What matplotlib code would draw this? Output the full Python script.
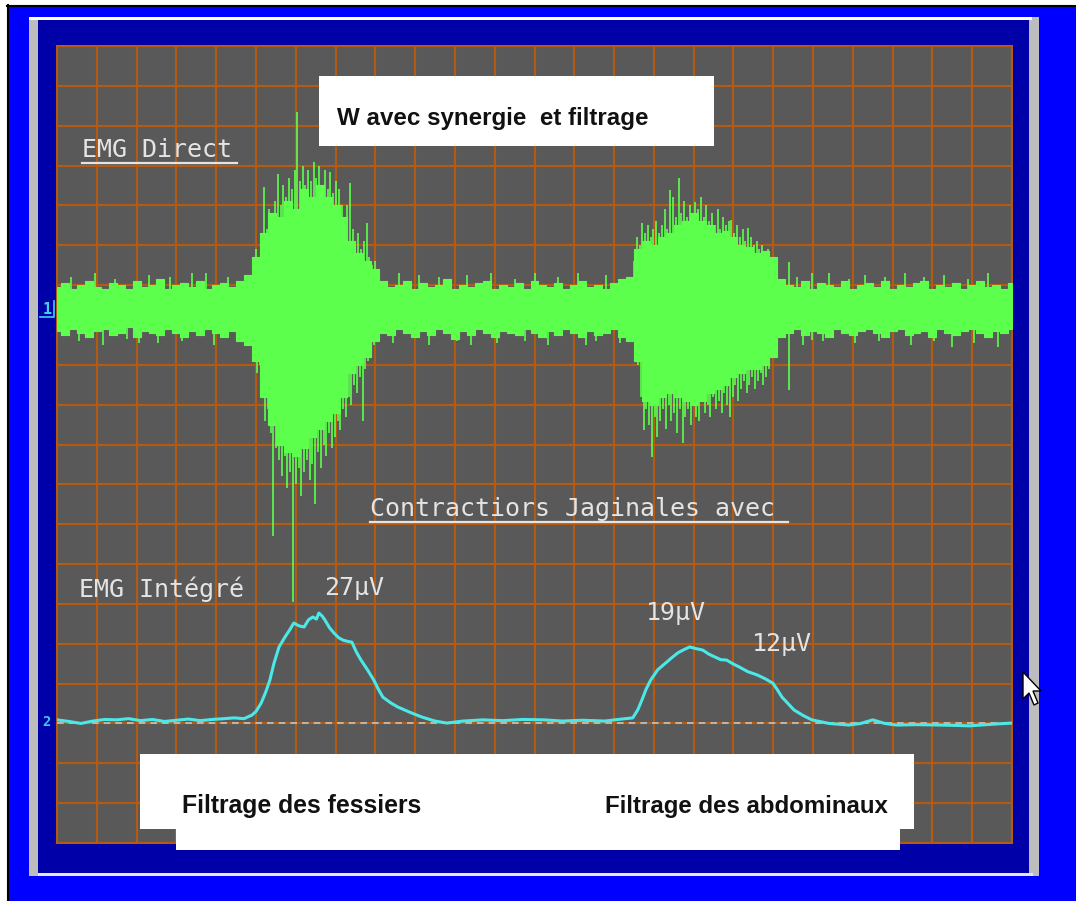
import numpy as np
import matplotlib
matplotlib.use("Agg")
import matplotlib.pyplot as plt
from matplotlib.patches import Rectangle, Polygon

# ---- data, in screen divisions (24 across, 20 high) -------------------------
# EMG direct: dense core of the raw trace, sampled every 0.2 division
T_DIV = np.linspace(0, 24, 121)
EMG_UPPER = [
    13.95, 14.05, 13.90, 14.00, 14.10, 13.95, 13.90, 14.05, 14.00, 13.90,
    14.10, 13.95, 14.00, 14.15, 13.90, 14.00, 14.05, 13.95, 14.10, 13.90,
    14.00, 14.05, 13.95, 14.10, 14.25, 14.70, 15.30, 15.80, 15.70, 16.10,
    15.90, 16.40, 16.20, 16.50, 16.20, 16.00, 15.70, 15.10, 14.80, 14.60,
    14.40, 14.10, 13.95, 14.00, 14.10, 13.90, 14.05, 13.95, 14.00, 14.15,
    13.90, 14.00, 13.95, 14.05, 14.10, 13.90, 14.00, 13.95, 14.05, 13.90,
    14.10, 14.00, 13.95, 14.05, 13.90, 14.00, 14.10, 13.95, 14.00, 13.90,
    14.05, 14.15, 14.20, 14.90, 15.10, 15.00, 15.20, 15.30, 15.50, 15.60,
    15.80, 15.60, 15.50, 15.30, 15.35, 15.20, 15.00, 14.95, 14.80, 14.85,
    14.70, 14.15, 14.00, 13.95, 14.10, 13.90, 14.05, 14.00, 13.95, 14.10,
    13.90, 14.00, 14.05, 13.95, 14.10, 13.90, 14.00, 13.95, 14.05, 14.10,
    13.90, 14.00, 13.95, 14.05, 13.90, 14.00, 14.10, 13.95, 14.00, 13.90,
    14.05,
]
EMG_LOWER = [
    12.85, 12.75, 12.90, 12.80, 12.70, 12.85, 12.90, 12.75, 12.80, 12.95,
    12.70, 12.85, 12.80, 12.75, 12.90, 12.80, 12.70, 12.85, 12.75, 12.90,
    12.80, 12.70, 12.85, 12.60, 12.50, 12.10, 11.20, 10.50, 10.00, 9.80,
    9.70, 9.90, 10.20, 10.40, 10.60, 10.80, 11.20, 11.80, 12.00, 12.20,
    12.60, 12.80, 12.75, 12.90, 12.80, 12.70, 12.85, 12.75, 12.90, 12.80,
    12.65, 12.85, 12.75, 12.90, 12.80, 12.70, 12.85, 12.80, 12.75, 12.90,
    12.80, 12.70, 12.85, 12.75, 12.90, 12.80, 12.70, 12.85, 12.75, 12.80,
    12.90, 12.70, 12.60, 12.10, 11.10, 11.00, 11.20, 11.30, 11.20, 11.10,
    11.00, 11.10, 11.30, 11.40, 11.50, 11.70, 11.80, 11.90, 11.90, 12.00,
    12.20, 12.70, 12.80, 12.90, 12.75, 12.85, 12.80, 12.70, 12.90, 12.80,
    12.75, 12.85, 12.90, 12.80, 12.70, 12.85, 12.90, 12.75, 12.80, 12.85,
    12.70, 12.90, 12.80, 12.75, 12.85, 12.90, 12.80, 12.70, 12.85, 12.80,
    12.90,
]
EMG_CENTER = 13.4

# individual transients above the core (x, tip)
UP_X = [
    4.92, 4.99, 5.06, 5.13, 5.20, 5.27, 5.34, 5.41, 5.48, 5.55,
    5.62, 5.69, 5.76, 5.83, 5.90, 5.97, 6.03, 6.10, 6.17, 6.24,
    6.31, 6.38, 6.45, 6.52, 6.59, 6.66, 6.73, 6.80, 6.87, 6.94,
    7.01, 7.08, 7.15, 7.22, 7.29, 7.36, 7.43, 7.50, 7.57, 7.64,
    7.71, 7.78, 7.85, 7.92, 7.99,
    14.50, 14.57, 14.64, 14.71, 14.78, 14.85, 14.92, 14.99, 15.06, 15.13,
    15.20, 15.27, 15.34, 15.41, 15.48, 15.55, 15.62, 15.69, 15.76, 15.83,
    15.90, 15.97, 16.04, 16.11, 16.18, 16.25, 16.32, 16.39, 16.46, 16.53,
    16.60, 16.67, 16.74, 16.81, 16.88, 16.95, 17.02, 17.09, 17.16, 17.23,
    17.30, 17.37, 17.44, 17.51, 17.58, 17.65, 17.72, 17.79, 17.86, 17.93,
    18.00,
    18.39, 18.97, 12.00, 20.30, 9.10, 3.40,
    0.35, 0.95, 1.45, 2.30, 2.85, 3.75, 4.30, 8.60, 9.60, 10.30,
    10.90, 11.50, 12.60, 13.10, 13.80, 18.60, 19.40, 19.90, 20.80, 21.30,
    21.80, 22.30, 22.90, 23.40,
]
UP_TIP = [
    14.6, 14.9, 14.7, 15.2, 16.46, 15.4, 15.9, 15.6, 16.1, 16.8,
    16.0, 16.5, 16.2, 16.7, 16.4, 16.9, 18.34, 16.6, 17.0, 16.5,
    16.9, 16.6, 17.1, 16.7, 17.0, 16.5, 16.9, 16.4, 16.85, 16.3,
    16.6, 16.4, 16.0, 15.7, 16.0, 16.55, 15.4, 15.1, 15.3, 14.9,
    15.1, 15.55, 14.7, 14.5, 14.6,
    14.6, 15.2, 15.0, 15.56, 15.3, 15.5, 15.2, 15.4, 15.6, 15.3,
    15.5, 15.9, 15.4, 16.39, 16.2, 15.7, 16.69, 15.8, 16.1, 15.7,
    16.0, 15.8, 16.08, 15.9, 16.2, 15.7, 16.0, 15.6, 15.8, 15.5,
    15.9, 15.4, 15.7, 15.5, 15.6, 15.63, 15.3, 15.5, 15.2, 15.4,
    15.1, 15.43, 15.2, 15.0, 15.1, 14.9, 15.0, 14.8, 14.9, 14.6,
    14.4,
    14.58, 14.30, 14.30, 14.25, 14.25, 14.30,
    14.20, 14.30, 14.15, 14.25, 14.20, 14.30, 14.20, 14.30, 14.20, 14.25,
    14.30, 14.15, 14.20, 14.30, 14.25, 14.20, 14.30, 14.15, 14.20, 14.30,
    14.20, 14.25, 14.15, 14.30,
]
# transients below the core (x, tip)
DOWN_X = [
    4.95, 5.02, 5.09, 5.16, 5.23, 5.30, 5.37, 5.44, 5.51, 5.58,
    5.65, 5.72, 5.79, 5.86, 5.93, 6.00, 6.07, 6.14, 6.21, 6.28,
    6.35, 6.42, 6.49, 6.56, 6.63, 6.70, 6.77, 6.84, 6.91, 6.98,
    7.05, 7.12, 7.19, 7.26, 7.33, 7.40, 7.47, 7.54, 7.61, 7.68,
    7.75, 7.82, 7.89, 7.96,
    14.53, 14.60, 14.67, 14.74, 14.81, 14.88, 14.95, 15.02, 15.09, 15.16,
    15.23, 15.30, 15.37, 15.44, 15.51, 15.58, 15.65, 15.72, 15.79, 15.86,
    15.93, 16.00, 16.07, 16.14, 16.21, 16.28, 16.35, 16.42, 16.49, 16.56,
    16.63, 16.70, 16.77, 16.84, 16.91, 16.98, 17.05, 17.12, 17.19, 17.26,
    17.33, 17.40, 17.47, 17.54, 17.61, 17.68, 17.75, 17.82, 17.89, 17.96,
    18.03,
    18.39, 18.97, 2.06, 22.50, 10.40, 13.30,
    0.55, 1.15, 1.75, 2.55, 3.15, 3.95, 4.55, 8.45, 9.35, 10.05,
    11.05, 11.75, 12.35, 13.55, 14.15, 18.75, 19.25, 20.05, 20.65, 21.45,
    22.05, 23.05, 23.65,
]
DOWN_TIP = [
    12.2, 11.8, 12.0, 11.2, 10.6, 10.9, 10.3, 7.7, 9.9, 9.6,
    9.2, 9.7, 8.9, 9.3, 6.05, 9.0, 9.4, 8.7, 9.3, 9.6,
    9.1, 9.5, 8.5, 9.8, 9.4, 10.0, 9.7, 10.3, 9.9, 10.2,
    10.6, 10.36, 10.9, 10.7, 11.2, 11.0, 11.5, 11.3, 11.7, 10.6,
    11.9, 12.1, 12.3, 12.5,
    12.4, 12.0, 11.2, 10.36, 10.9, 10.5, 9.69, 10.7, 10.19, 10.6,
    10.9, 10.4, 11.0, 10.6, 10.8, 10.3, 10.9, 10.04, 10.7, 10.9,
    10.5, 11.0, 10.7, 10.6, 11.1, 10.8, 11.0, 10.7, 11.2, 10.9,
    11.1, 10.8, 11.3, 11.0, 10.69, 11.2, 11.5, 11.1, 11.4, 11.6,
    11.3, 11.5, 11.7, 11.4, 11.6, 11.8, 11.5, 11.7, 11.9, 12.2,
    12.6,
    11.37, 12.62, 12.55, 12.45, 12.50, 12.50,
    12.60, 12.50, 12.65, 12.55, 12.60, 12.50, 12.60, 12.55, 12.50, 12.60,
    12.55, 12.60, 12.50, 12.60, 12.55, 12.50, 12.60, 12.55, 12.60, 12.50,
    12.60, 12.55, 12.45,
]

# EMG integrated trace
INT_X = [0.0, 0.3, 0.6, 0.9, 1.2, 1.5, 1.8, 2.1, 2.4, 2.7,
         3.0, 3.3, 3.6, 3.9, 4.2, 4.45, 4.7, 4.9, 5.0, 5.13,
         5.25, 5.35, 5.45, 5.58, 5.73, 5.85, 5.95, 6.08, 6.21, 6.32,
         6.43, 6.52, 6.58, 6.66, 6.73, 6.85, 6.96, 7.08, 7.19, 7.3,
         7.41, 7.52, 7.64, 7.8, 7.96, 8.08, 8.19, 8.38, 8.57, 8.87,
         9.17, 9.5, 9.8, 10.2, 10.7, 11.2, 11.7, 12.24, 12.7, 13.2,
         13.77, 14.1, 14.47, 14.6, 14.7, 14.8, 14.92, 15.1, 15.3, 15.45,
         15.6, 15.75, 15.9, 16.05, 16.23, 16.38, 16.53, 16.68, 16.83, 16.98,
         17.14, 17.36, 17.59, 17.8, 17.99, 18.1, 18.22, 18.37, 18.52, 18.75,
         18.97, 19.4, 19.9, 20.2, 20.5, 20.8, 21.1, 21.6, 22.19, 22.6,
         22.94, 23.5, 24.0]
INT_Y = [3.09, 3.05, 3.00, 3.06, 3.10, 3.09, 3.12, 3.07, 3.10, 3.05,
         3.08, 3.11, 3.07, 3.10, 3.12, 3.14, 3.12, 3.21, 3.30, 3.51,
         3.80, 4.09, 4.50, 4.92, 5.17, 5.35, 5.52, 5.45, 5.42, 5.60,
         5.67, 5.62, 5.77, 5.70, 5.60, 5.40, 5.27, 5.15, 5.09, 5.06,
         5.04, 4.80, 4.59, 4.35, 4.09, 3.85, 3.66, 3.52, 3.41, 3.28,
         3.16, 3.06, 3.01, 3.06, 3.09, 3.07, 3.10, 3.09, 3.06, 3.08,
         3.06, 3.10, 3.14, 3.35, 3.59, 3.85, 4.09, 4.35, 4.52, 4.65,
         4.77, 4.85, 4.92, 4.88, 4.84, 4.74, 4.67, 4.60, 4.59, 4.50,
         4.42, 4.30, 4.22, 4.12, 4.01, 3.85, 3.66, 3.50, 3.34, 3.20,
         3.09, 3.00, 2.96, 3.00, 3.09, 3.00, 2.96, 2.97, 2.96, 2.95,
         2.94, 2.98, 3.01]
INT_BASELINE = 3.0
PEAK_LABELS = ["27µV", "19µV", "12µV"]

GREEN = "#5CFF4C"
CYAN = "#4CE8E8"
GRID = "#B65A12"
SCREEN_TXT = "#E4E4E4"
MONO = "DejaVu Sans Mono"
BOLD = ["Liberation Sans", "DejaVu Sans"]

W, H = 1076, 901
fig = plt.figure(figsize=(W / 100, H / 100), dpi=100, facecolor="#0000FF")

# ---------- window frame (pixel coords) ----------
bg = fig.add_axes([0, 0, 1, 1], zorder=0)
bg.set_xlim(0, W); bg.set_ylim(H, 0); bg.axis("off")
bg.add_patch(Rectangle((0, 0), 7, H, color="white", lw=0))
bg.add_patch(Rectangle((0, 0), W, 5, color="white", lw=0))
bg.plot([7.5, 7.5], [5, H], color="black", lw=1.5)
bg.plot([7, W], [5.5, 5.5], color="black", lw=1.5)
bg.add_patch(Rectangle((29, 17), 1010, 859, color="#BDBDBD", lw=0))
bg.add_patch(Rectangle((29, 17), 1003, 2.5, color="white", lw=0))
bg.add_patch(Rectangle((38, 20), 991, 853, color="#0000A8", lw=0))
bg.add_patch(Rectangle((38, 873), 995, 3, color="#E6E6F2", lw=0))

# ---------- oscilloscope screen ----------
ax = fig.add_axes([57 / W, (H - 843) / H, 955 / W, 797 / H], zorder=1)
ax.set_facecolor("#595959")
ax.set_xlim(0, 24); ax.set_ylim(0, 20)
ax.set_xticks(np.arange(25)); ax.set_yticks(np.arange(21))
ax.tick_params(length=0, labelbottom=False, labelleft=False)
ax.grid(True, color=GRID, lw=1.5)
ax.set_axisbelow(True)
for s in ax.spines.values():
    s.set_color(GRID); s.set_linewidth(1.5)

ax.fill_between(T_DIV, EMG_LOWER, EMG_UPPER, step="mid", color=GREEN,
                lw=0.8, edgecolor=GREEN, zorder=3)
ax.vlines(UP_X, EMG_CENTER, UP_TIP, color=GREEN, lw=1.2, zorder=3)
ax.vlines(DOWN_X, DOWN_TIP, EMG_CENTER, color=GREEN, lw=1.2, zorder=3)
ax.axhline(INT_BASELINE, color="#C4C4C4", lw=1.2, dashes=(4, 3), zorder=3)
ax.plot(INT_X, INT_Y, color=CYAN, lw=2.2, zorder=4)

# ---------- overlay: labels, white boxes, cursor ----------
ov = fig.add_axes([0, 0, 1, 1], zorder=2)
ov.set_xlim(0, W); ov.set_ylim(H, 0); ov.axis("off")
ov.patch.set_alpha(0)

ov.add_patch(Rectangle((319, 76), 395, 70, color="white", lw=0))
ov.text(337, 119, "W avec synergie  et filtrage", fontsize=17.4,
        fontweight="bold", family=BOLD, va="center", ha="left", color="#111111")

ov.add_patch(Rectangle((140, 754), 774, 75, color="white", lw=0))
ov.add_patch(Rectangle((176, 800), 724, 50, color="white", lw=0))
ov.text(182, 806, "Filtrage des fessiers", fontsize=17.8, fontweight="bold",
        family=BOLD, va="center", ha="left", color="#111111")
ov.text(605, 806, "Filtrage des abdominaux", fontsize=17.3, fontweight="bold",
        family=BOLD, va="center", ha="left", color="#111111")

def screen_label(x, y, s, underline_to=None):
    ov.text(x, y, s, fontsize=18, family=MONO, color=SCREEN_TXT,
            va="baseline", ha="left")
    if underline_to is not None:
        ov.plot([x, underline_to], [y + 6, y + 6], color=SCREEN_TXT, lw=1.6)

screen_label(82, 157, "EMG Direct", underline_to=237)
screen_label(370, 516, "Contractiors Jaginales avec", underline_to=788)
screen_label(79, 597, "EMG Intégré")
for (x, y), lbl in zip([(324, 595), (646, 620), (752, 651)], PEAK_LABELS):
    screen_label(x, y, lbl)

# channel markers on the left edge
ov.text(47, 309, "1", fontsize=11, family=MONO, fontweight="bold",
        color="#40D0F0", ha="center", va="center")
ov.plot([40, 54, 54], [317, 317, 301], color="#40D0F0", lw=1.2)
ov.text(46, 722, "2", fontsize=10, family=MONO, fontweight="bold",
        color="#40C8F0", ha="center", va="center")

# mouse pointer
ov.add_patch(Polygon([(1023, 672), (1023, 699), (1029, 693), (1034, 705),
                      (1038, 703), (1033, 691), (1041, 691)],
                     closed=True, facecolor="white", edgecolor="black", lw=1))

fig.savefig("out.png", dpi=100, facecolor=fig.get_facecolor())
